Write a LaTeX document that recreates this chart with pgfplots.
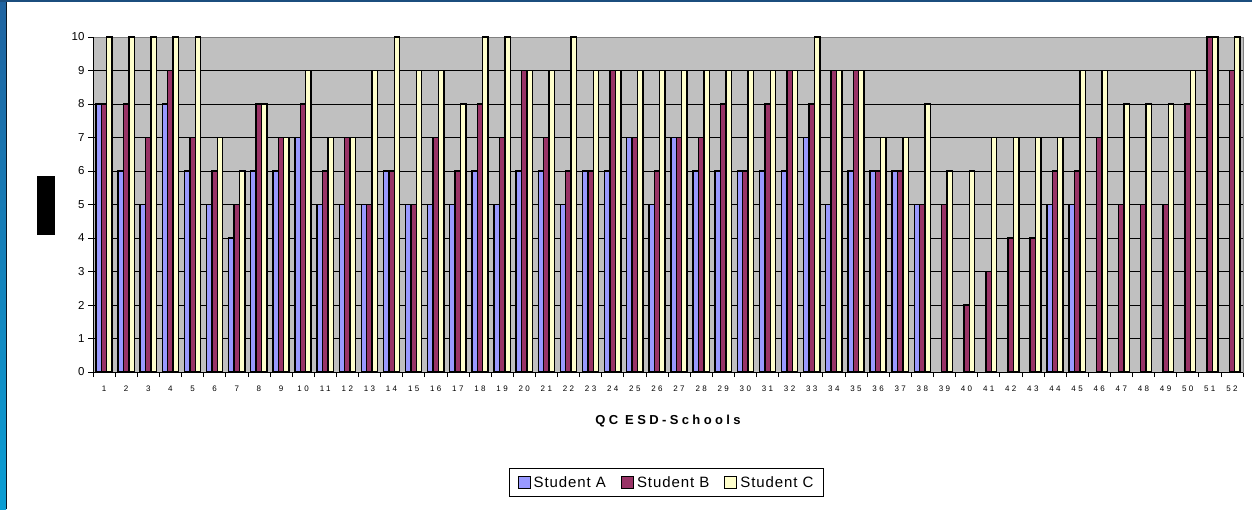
\documentclass[border=0pt]{standalone}
\usepackage{fontspec}
\setmainfont{Liberation Sans}
\usepackage{pgfplots}
\usepackage{pgfplotstable}
\pgfplotsset{compat=1.18}
\definecolor{sa}{HTML}{9999FF}
\definecolor{sb}{HTML}{993366}
\definecolor{sc}{HTML}{FFFFCC}
\definecolor{plotgray}{HTML}{C0C0C0}
\definecolor{frameA}{HTML}{1F63A0}
\definecolor{frameB}{HTML}{0A9ED4}
\definecolor{frameTop}{HTML}{1B4E7E}
\newfontfamily\spaced[LetterSpace=26]{Liberation Sans}
\newfontfamily\lspaced[LetterSpace=6]{Liberation Sans}
\newfontfamily\tspaced[LetterSpace=30]{Liberation Sans}

\pgfplotstableread{
x y
1 8
2 6
3 5
4 8
5 6
6 5
7 4
8 6
9 6
10 7
11 5
12 5
13 5
14 6
15 5
16 5
17 5
18 6
19 5
20 6
21 6
22 5
23 6
24 6
25 7
26 5
27 7
28 6
29 6
30 6
31 6
32 6
33 7
34 5
35 6
36 6
37 6
38 5
44 5
45 5
}\dataA

\pgfplotstableread{
x y
1 8
2 8
3 7
4 9
5 7
6 6
7 5
8 8
9 7
10 8
11 6
12 7
13 5
14 6
15 5
16 7
17 6
18 8
19 7
20 9
21 7
22 6
23 6
24 9
25 7
26 6
27 7
28 7
29 8
30 6
31 8
32 9
33 8
34 9
35 9
36 6
37 6
38 5
39 5
40 2
41 3
42 4
43 4
44 6
45 6
46 7
47 5
48 5
49 5
50 8
51 10
52 9
}\dataB

\pgfplotstableread{
x y
1 10
2 10
3 10
4 10
5 10
6 7
7 6
8 8
9 7
10 9
11 7
12 7
13 9
14 10
15 9
16 9
17 8
18 10
19 10
20 9
21 9
22 10
23 9
24 9
25 9
26 9
27 9
28 9
29 9
30 9
31 9
32 9
33 10
34 9
35 9
36 7
37 7
38 8
39 6
40 6
41 7
42 7
43 7
44 7
45 9
46 9
47 8
48 8
49 8
50 9
51 10
52 10
}\dataC

\begin{document}
\begin{tikzpicture}[x=1pt,y=1pt]
\useasboundingbox (0,0) rectangle (1252,509);
\fill[white] (0,0) rectangle (1252,509);
\shade[top color=frameA, bottom color=frameB] (0,0) rectangle (6,509);
\fill[black!75!frameA] (6,0) rectangle (7.3,509);
\fill[frameTop] (0,506.8) rectangle (1252,509);
\begin{axis}[
  at={(93pt,137pt)}, anchor=south west,
  scale only axis, width=1150pt, height=335pt,
  ybar=0pt, bar width=5.4pt,
  xmin=0.5, xmax=52.5, ymin=0, ymax=10,
  xtick={0.5,1.5,...,52.5}, xticklabels={},
  extra x ticks={1,2,...,52},
  extra x tick labels={1,2,3,4,5,6,7,8,9,10,11,12,13,14,15,16,17,18,19,20,21,22,23,24,25,26,27,28,29,30,31,32,33,34,35,36,37,38,39,40,41,42,43,44,45,46,47,48,49,50,51,52},
  extra x tick style={major tick length=0pt, grid=none,
     xticklabel style={font=\tspaced\fontsize{8}{9}\selectfont, yshift=-10pt}},
  ytick={0,1,...,10},
  yticklabel style={font=\fontsize{11.5}{13}\selectfont},
  /pgf/number format/assume math mode=true,
  ymajorgrids, grid style={black, line width=0.6pt},
  tick align=outside, tick pos=left,
  major tick length=5pt, tick style={black, line width=0.6pt},
  axis background/.style={fill=plotgray},
  axis line style={draw=gray, line width=0.8pt},
  xlabel={QC ESD-Schools},
  xlabel style={at={(axis description cs:0.5,-0.146)}, anchor=center,
     font=\spaced\bfseries\fontsize{13}{15}\selectfont},
  ylabel={~},
  ylabel style={at={(axis description cs:-0.0409,0.497)}, anchor=center,
     fill=black, minimum width=59pt, minimum height=18pt, inner sep=0pt},
  legend columns=3,
  legend style={at={(axis description cs:0.4987,-0.33)}, anchor=center,
     draw=black, line width=0.6pt, inner xsep=8pt, inner ysep=6pt,
     font=\lspaced\fontsize{15}{17}\selectfont,
     /tikz/every odd column/.append style={column sep=1pt},
     /tikz/every even column/.append style={column sep=13pt}},
  legend image code/.code={\draw[#1, line width=1.2pt] (0pt,-6pt) rectangle (12pt,6pt);},
]
\addplot[fill=sa, draw=black, line width=1.4pt] table[x=x,y=y] {\dataA};
\addplot[fill=sb, draw=black, line width=1.4pt] table[x=x,y=y] {\dataB};
\addplot[fill=sc, draw=black, line width=1.4pt] table[x=x,y=y] {\dataC};
\legend{Student A, Student B, Student C}
\draw[black, line width=0.8pt] (rel axis cs:0,0) -- (rel axis cs:0,1);
\draw[black, line width=0.8pt] (rel axis cs:0,0) -- (rel axis cs:1,0);
\end{axis}
\end{tikzpicture}
\end{document}
